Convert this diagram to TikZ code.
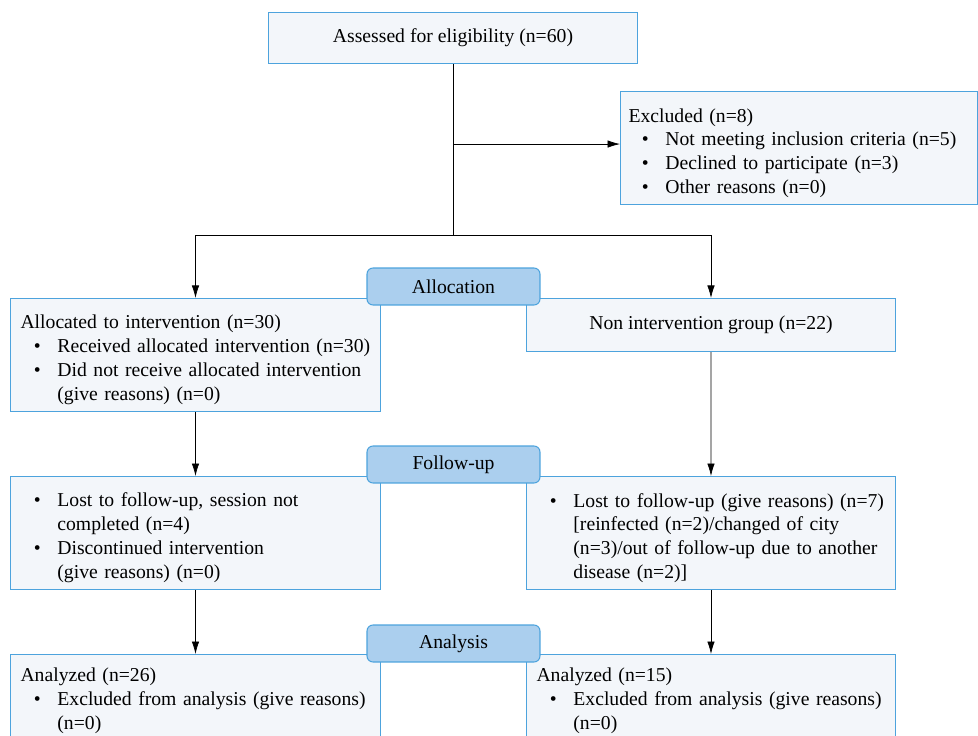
\documentclass[tikz,border=0pt]{standalone}
\usepackage{fontspec}
\setmainfont{Liberation Serif}
\usetikzlibrary{
	positioning,   %定位
	calc,          %计算
	arrows.meta    %箭头
}
\definecolor{boxline}{HTML}{4DA3DD}
\definecolor{boxfill}{HTML}{F3F6FA}
\definecolor{tagfill}{HTML}{ABCFEE}
\newcommand{\boxfont}{\fontsize{11.2}{13.6}\selectfont}
%框内各行
\newcommand{\firstln}[1]{\par\noindent\mbox{#1}}
\newcommand{\bulln}[1]{\par\noindent\hspace*{7.6pt}\makebox[13.4pt][l]{\textbullet}\mbox{#1}}
\newcommand{\contln}[1]{\par\noindent\hspace*{21pt}\mbox{#1}}
\tikzstyle{infobox}=[rectangle,
draw=boxline,
fill=boxfill,
line width=0.6pt,
inner xsep=0.2cm,
inner ysep=0.12cm,
align=left,
font=\boxfont,
anchor=north west]
\tikzstyle{stagetag}=[rectangle,
rounded corners=1.2mm,
draw=boxline,
fill=tagfill,
line width=0.6pt,
minimum width=3.46cm,
minimum height=0.74cm,
font=\boxfont]
\tikzset{
	every picture/.style={
		>={Latex[length=2.5mm,width=1.5mm]}
}}

\begin{document}
\begin{tikzpicture}[x=0.02cm,y=-0.02cm]
\useasboundingbox (0,0) rectangle (978,736);

%筛选
\node[infobox,align=center,minimum width=7.38cm,minimum height=1.02cm] (assess) at (268,12) {Assessed for eligibility (n=60)};
\node[infobox,text width=6.82cm,inner xsep=0.16cm,minimum height=2.26cm] (excl) at (620,91)
{\firstln{Excluded (n=8)}
\bulln{Not meeting inclusion criteria (n=5)}
\bulln{Declined to participate (n=3)}
\bulln{Other reasons (n=0)}};

%分组
\node[infobox,text width=7cm,minimum height=2.26cm] (alloc) at (10,298)
{\firstln{Allocated to intervention (n=30)}
\bulln{Received allocated intervention (n=30)}
\bulln{Did not receive allocated intervention}
\contln{(give reasons) (n=0)}};
\node[infobox,align=center,minimum width=7.38cm,minimum height=1.06cm] (nonint) at (526,298) {Non intervention group (n=22)};

%随访
\node[infobox,text width=7cm,minimum height=2.26cm] (lostL) at (10,476)
{\bulln{Lost to follow-up, session not}
\contln{completed (n=4)}
\bulln{Discontinued intervention}
\contln{(give reasons) (n=0)}};
\node[infobox,text width=6.98cm,minimum height=2.26cm] (lostR) at (526,476)
{\bulln{Lost to follow-up (give reasons) (n=7)}
\contln{[reinfected (n=2)/changed of city}
\contln{(n=3)/out of follow-up due to another}
\contln{disease (n=2)]}};

%分析(框底超出画面)
\node[infobox,text width=7cm,inner ysep=0.06cm] (anaL) at (10,654)
{\firstln{Analyzed (n=26)}
\bulln{Excluded from analysis (give reasons)}
\contln{(n=0)}\par\vspace*{24pt}};
\node[infobox,text width=6.98cm,inner ysep=0.06cm] (anaR) at (526,654)
{\firstln{Analyzed (n=15)}
\bulln{Excluded from analysis (give reasons)}
\contln{(n=0)}\par\vspace*{24pt}};

%连线
\coordinate (branch) at ($(assess.south)+(0,80)$);
\coordinate (fork) at ($(assess.south)+(0,171)$);
\draw (assess.south) -- (fork);
\draw[->] (branch) -- (branch -| excl.west);
\draw[->] (fork) -| (alloc.north);
\draw[->] (fork) -| (nonint.north);
\draw[->] (alloc.south) -- (lostL.north);
\draw[->] (nonint.south) -- (lostR.north);
\draw[->] (lostL.south) -- (anaL.north);
\draw[->] (lostR.south) -- (anaR.north);

%阶段标签
\node[stagetag] (alloctag) at (453.5,286.5) {Allocation};
\node[stagetag] (followtag) at (453.5,464.5) {Follow-up};
\node[stagetag] (anatag) at (453.5,643.5) {Analysis};

\end{tikzpicture}
\end{document}
